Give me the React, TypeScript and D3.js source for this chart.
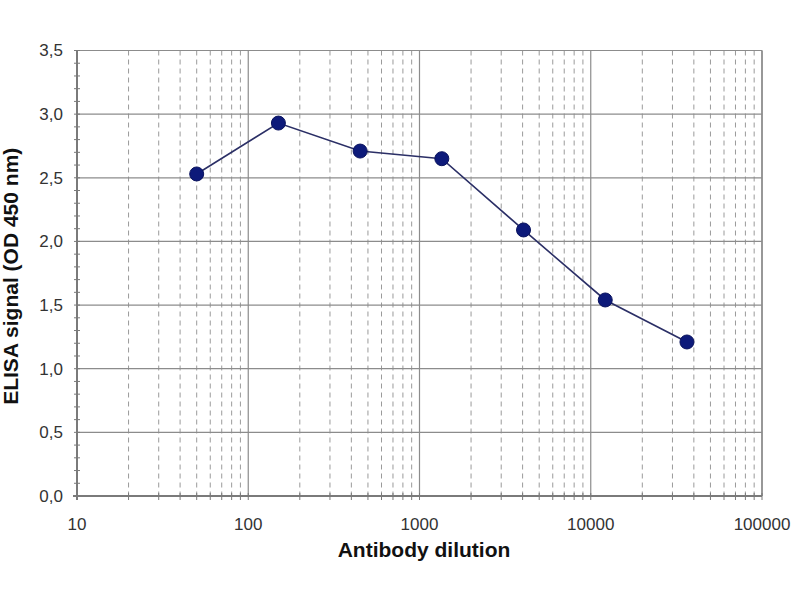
import React from 'react';
import * as d3 from 'd3';

// Antibody dilution series (3-fold) and ELISA signal
const dilutions = [50, 150, 450, 1350, 4050, 12150, 36450];
const signals = [2.53, 2.93, 2.71, 2.65, 2.09, 1.54, 1.21];
const yTicks = [0, 0.5, 1.0, 1.5, 2.0, 2.5, 3.0, 3.5];
const xTicks = [10, 100, 1000, 10000, 100000];

const W = 800;
const H = 600;
const margin = { left: 77, right: 38, top: 50.5, bottom: 104 };

export default function App() {
  const x = d3.scaleLog().domain([10, 100000]).range([margin.left, W - margin.right]);
  const y = d3.scaleLinear().domain([0, 3.5]).range([H - margin.bottom, margin.top]);

  // minor decade lines 20..90, 200..900 ...
  const minorX: number[] = [];
  for (let e = 1; e < 5; e++) {
    for (let m = 2; m <= 9; m++) minorX.push(m * Math.pow(10, e));
  }
  const minorY = d3.range(0, 3.51, 0.1).map((v) => Math.round(v * 10) / 10);

  const line = d3
    .line<number>()
    .x((_, i) => x(dilutions[i]))
    .y((d) => y(d));

  const font = 'Arial, "Liberation Sans", sans-serif';
  const fmt = (v: number) => v.toFixed(1).replace('.', ',');
  const x0 = x(10);
  const x1 = x(100000);
  const y0 = y(0);
  const y1 = y(3.5);

  return (
    <svg width={W} height={H} style={{ position: 'absolute', left: 0, top: 0, background: '#fff' }}>
      {/* minor vertical dashed gridlines */}
      {minorX.map((v) => (
        <line key={'mx' + v} x1={x(v)} x2={x(v)} y1={y1} y2={y0} stroke="#9a9a9a" strokeWidth={1} strokeDasharray="5,4" />
      ))}
      {/* major vertical gridlines */}
      {xTicks.map((v) => (
        <line key={'gx' + v} x1={x(v)} x2={x(v)} y1={y1} y2={y0} stroke="#8c8c8c" strokeWidth={1.2} />
      ))}
      {/* horizontal gridlines */}
      {yTicks.map((v) => (
        <line key={'gy' + v} x1={x0} x2={x1} y1={y(v)} y2={y(v)} stroke="#8c8c8c" strokeWidth={1.2} />
      ))}
      {/* right border */}
      <line x1={x1} x2={x1} y1={y1} y2={y0} stroke="#8c8c8c" strokeWidth={1.5} />
      {/* axes */}
      <line x1={x0} x2={x0} y1={y1} y2={y0 + 4} stroke="#7a7a7a" strokeWidth={2} />
      <line x1={x0 - 4} x2={x1} y1={y0} y2={y0} stroke="#7a7a7a" strokeWidth={2} />
      {/* y minor ticks */}
      {minorY.map((v) => (
        <line key={'ty' + v} x1={x0 - 3} x2={x0 + 3} y1={y(v)} y2={y(v)} stroke="#7a7a7a" strokeWidth={1} />
      ))}
      {/* x ticks */}
      {[...xTicks, ...minorX].map((v) => (
        <line key={'tx' + v} x1={x(v)} x2={x(v)} y1={y0 - 3} y2={y0 + 4} stroke="#7a7a7a" strokeWidth={1} />
      ))}
      {/* y tick labels */}
      {yTicks.map((v) => (
        <text key={'ly' + v} x={x0 - 14} y={y(v)} dy="0.35em" textAnchor="end" fontFamily={font} fontSize={17} fill="#333">
          {fmt(v)}
        </text>
      ))}
      {/* x tick labels */}
      {xTicks.map((v) => (
        <text key={'lx' + v} x={x(v)} y={y0 + 34} textAnchor="middle" fontFamily={font} fontSize={17} fill="#333">
          {v}
        </text>
      ))}
      {/* axis titles */}
      <text x={424} y={557} textAnchor="middle" fontFamily={font} fontSize={21} fontWeight="bold" fill="#111">
        Antibody dilution
      </text>
      <text
        transform={`translate(18,${(y0 + y1) / 2 + 3}) rotate(-90)`}
        textAnchor="middle"
        fontFamily={font}
        fontSize={21}
        fontWeight="bold"
        fill="#111"
      >
        ELISA signal (OD 450 nm)
      </text>
      {/* data */}
      <path d={line(signals) || ''} fill="none" stroke="#2b2f66" strokeWidth={1.6} />
      {signals.map((s, i) => (
        <circle key={'p' + i} cx={x(dilutions[i])} cy={y(s)} r={7} fill="#0d1a7a" stroke="#0a135e" strokeWidth={1} />
      ))}
    </svg>
  );
}
